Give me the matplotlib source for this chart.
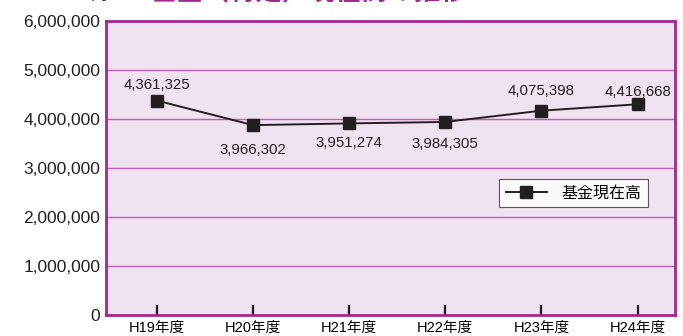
import matplotlib
matplotlib.use('Agg')
import matplotlib.pyplot as plt
from matplotlib.ticker import FuncFormatter

plt.rcParams['font.family'] = ['Liberation Sans', 'Noto Sans CJK JP', 'DejaVu Sans']

years = ['H19年度', 'H20年度', 'H21年度', 'H22年度', 'H23年度', 'H24年度']
# values printed as labels
values = [4361325, 3966302, 3951274, 3984305, 4075398, 4416668]
# marker heights as drawn in the original chart
plotted = [4375000, 3875000, 3910000, 3940000, 4170000, 4300000]
yticks = [0, 1000000, 2000000, 3000000, 4000000, 5000000, 6000000]

magenta = '#A3278F'
grid_col = '#BC5FB2'
bg = '#F0E3F1'
ink = '#231F20'

fig = plt.figure(figsize=(6.83, 3.36), dpi=100)
ax = fig.add_axes([106 / 683, 21 / 336, 569 / 683, 294 / 336])
ax.set_facecolor(bg)

x = list(range(len(years)))
ax.plot(x, plotted, color=ink, linewidth=1.4, marker='s', markersize=8,
        markerfacecolor=ink, markeredgecolor=ink, label='基金現在高', zorder=3)

# label offsets (points), above or below each marker
offsets = [(0, 11), (0, -18), (0, -14), (0, -16), (0, 14), (0, 9)]
for xi, yi, v, off in zip(x, plotted, values, offsets):
    ax.annotate(f'{v:,}', (xi, yi), xytext=off, textcoords='offset points',
                ha='center', va='center', fontsize=10.8, color=ink)

ax.set_xlim(-0.53, 5.39)
ax.set_ylim(0, 6000000)
ax.set_yticks(yticks)
ax.yaxis.set_major_formatter(FuncFormatter(lambda v, p: f'{int(v):,}'))
ax.set_xticks(x)
ax.set_xticklabels(years, fontsize=10.5)
ax.tick_params(axis='x', direction='in', length=7, width=1.6, color=ink, pad=4)
ax.tick_params(axis='y', length=0, pad=4, labelsize=12.5, labelcolor=ink)

for v in yticks[1:-1]:
    ax.axhline(v, color=grid_col, linewidth=1, zorder=1)

for s in ax.spines.values():
    s.set_color(magenta)
    s.set_linewidth(2)

leg = ax.legend(loc='upper left', bbox_to_anchor=(393 / 569, 136 / 294),
                frameon=True, fancybox=False, fontsize=11.5, handlelength=2.6,
                borderpad=0.42, handletextpad=0.9, borderaxespad=0)
leg.get_frame().set_edgecolor('#333333')
leg.get_frame().set_linewidth(0.8)
leg.get_frame().set_facecolor('white')

# title and unit, cut off at the top edge of the image
fig.text(150 / 683, 1.0 - 5 / 336, '基金（特定）現在高の推移', fontsize=19,
         fontweight='bold', color=magenta, ha='left', va='bottom')
fig.text(90 / 683, 1.0 - 3 / 336, '円', fontsize=12, color=ink,
         ha='left', va='bottom')

fig.savefig('out.png', dpi=100)
